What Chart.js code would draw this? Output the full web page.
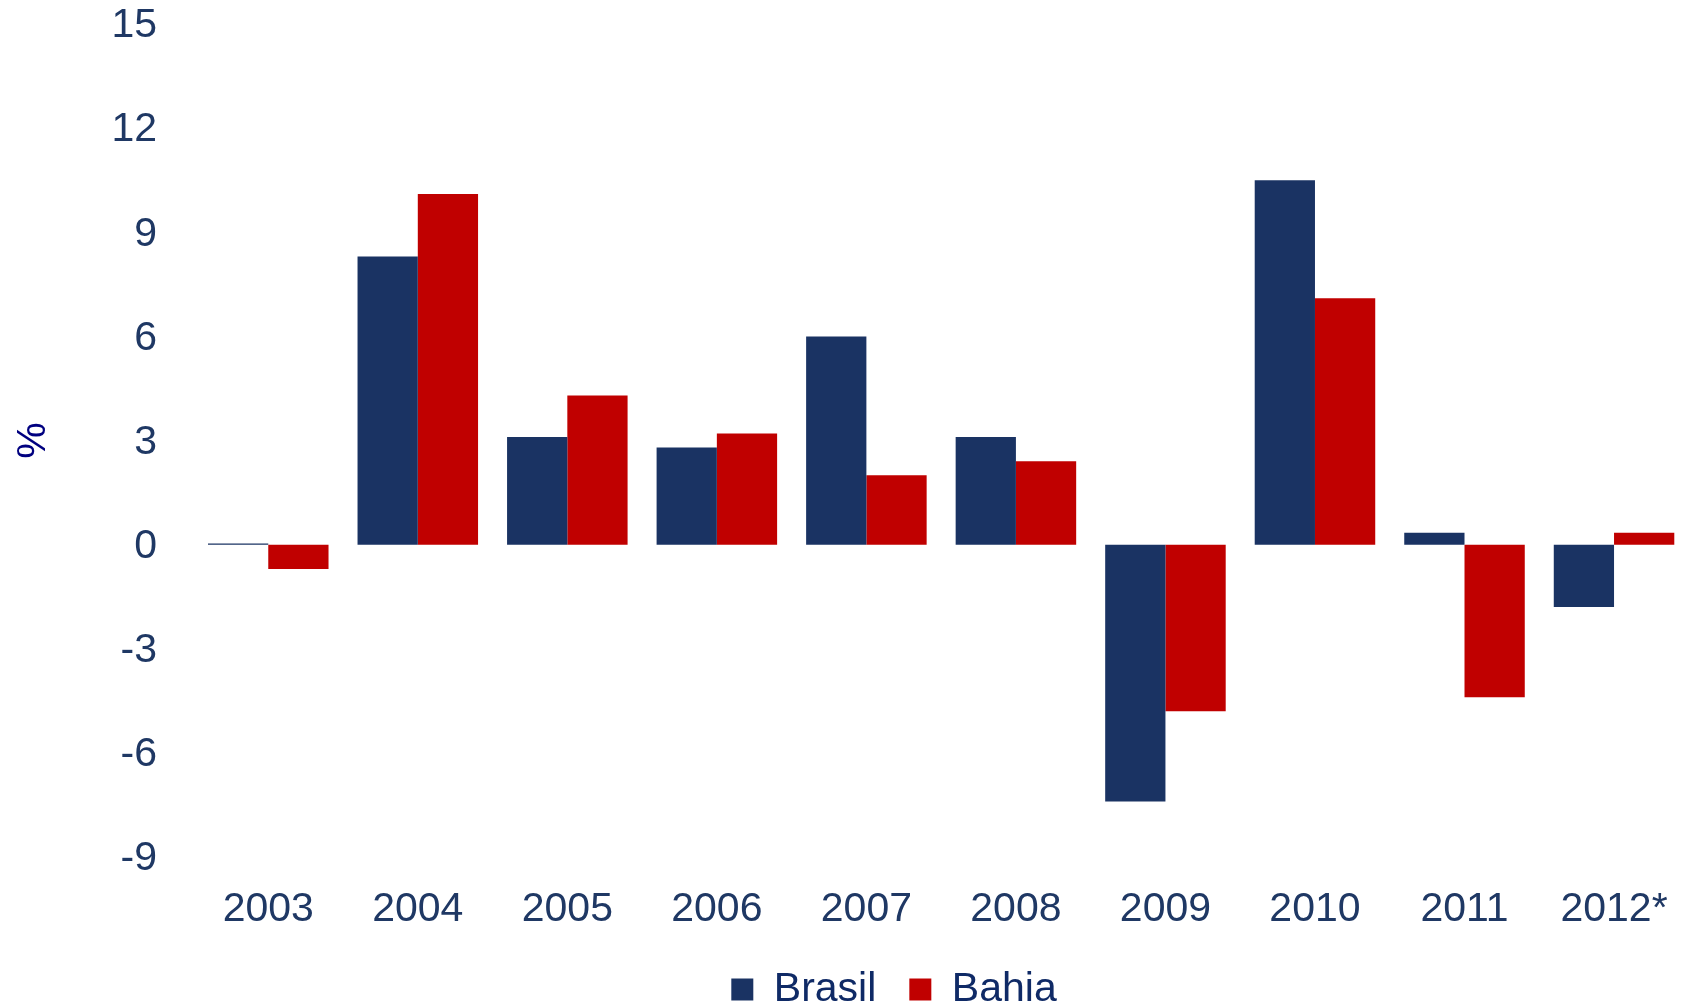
<!DOCTYPE html>
<html>
<head>
<meta charset="utf-8">
<script src="https://cdn.jsdelivr.net/npm/chart.js@4.4.1/dist/chart.umd.min.js"></script>
<style>
  html, body { margin: 0; padding: 0; background: #ffffff; overflow: hidden; }
  #wrap { width: 1683px; height: 1007px; overflow: hidden; position: relative; }
  canvas { display: block; }
</style>
</head>
<body>
<div id="wrap"><canvas id="c" width="1788" height="1020"></canvas></div>
<script>
const categories = ['2003', '2004', '2005', '2006', '2007', '2008', '2009', '2010', '2011', '2012*'];
const brasil = [0.03, 8.3, 3.1, 2.8, 6.0, 3.1, -7.4, 10.5, 0.34, -1.8];
const bahia = [-0.7, 10.1, 4.3, 3.2, 2.0, 2.4, -4.8, 7.1, -4.4, 0.34];
const yTicks = [-9, -6, -3, 0, 3, 6, 9, 12, 15];
const seriesNames = ['Brasil', 'Bahia'];
const yTitle = '%';

const FONT = "'Liberation Sans', Arial, sans-serif";
const FS = 41;
const tickColor = '#1F3864';

new Chart(document.getElementById('c'), {
  type: 'bar',
  data: {
    labels: categories,
    datasets: [
      { label: seriesNames[0], data: brasil, backgroundColor: '#1A3363', borderWidth: 0 },
      { label: seriesNames[1], data: bahia, backgroundColor: '#C00000', borderWidth: 0 }
    ]
  },
  options: {
    responsive: false,
    devicePixelRatio: 1,
    animation: false,
    layout: { padding: { top: 24, left: 0, right: 0, bottom: 0 } },
    datasets: { bar: { categoryPercentage: 0.806, barPercentage: 1.0 } },
    plugins: {
      legend: {
        position: 'bottom',
        labels: {
          boxWidth: 22, boxHeight: 22, padding: 33,
          color: '#0F2A66',
          font: { family: FONT, size: FS }
        }
      },
      tooltip: { enabled: false }
    },
    scales: {
      x: {
        grid: { display: false, drawTicks: false },
        border: { display: false },
        ticks: { color: tickColor, font: { family: FONT, size: FS }, padding: 28.5, maxRotation: 0, autoSkip: false },
        afterFit: s => { s.height = 79; }
      },
      y: {
        min: -9, max: 15,
        afterBuildTicks: s => { s.ticks = yTicks.map(v => ({ value: v })); },
        grid: { display: false, drawTicks: false },
        border: { display: false },
        ticks: { color: tickColor, font: { family: FS ? FONT : FONT, size: FS }, padding: 36.5, labelOffset: 2 },
        title: { display: true, text: yTitle, color: '#000080', font: { family: FONT, size: FS }, padding: { top: 9, bottom: 0 } },
        afterFit: s => { s.width = 193.5; s.paddingTop = 0; s.paddingBottom = 0; }
      },
      y2: {
        position: 'right',
        display: true,
        grid: { display: false, drawTicks: false },
        border: { display: false },
        ticks: { display: false },
        afterFit: s => { s.width = 99.2; s.paddingTop = 0; s.paddingBottom = 0; }
      }
    }
  }
});
</script>
</body>
</html>
